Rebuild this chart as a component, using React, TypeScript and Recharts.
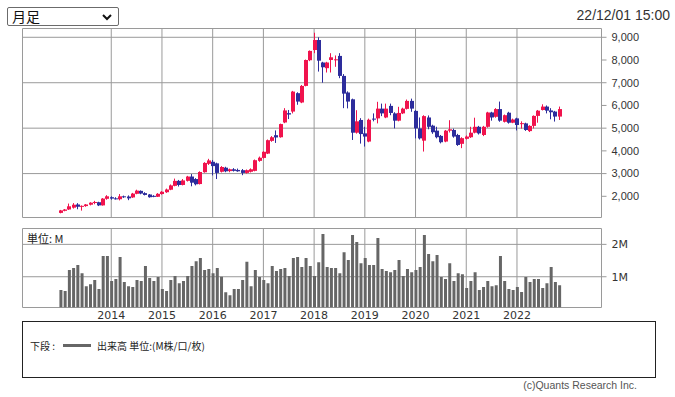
import React from 'react';
import { ComposedChart, Bar, XAxis, YAxis, CartesianGrid, ReferenceArea } from 'recharts';

// monthly bars, index 0 = Jan 2013
const opens = [
  1270, 1360, 1420, 1500, 1640, 1540, 1570, 1630, 1710, 1740, 1600, 1890,
  1960, 1910, 1870, 2000, 1990, 1950, 2110, 2240, 2140, 2080, 2020, 1980,
  2100, 2180, 2290, 2460, 2680, 2500, 2680, 2870, 2760, 2540, 3060, 3430,
  3520, 3450, 3080, 3260, 3110, 3190, 3160, 3150, 3030, 3080, 3120, 3560,
  3690, 3880, 4440, 4690, 4600, 5250, 5660, 5730, 6540, 6130, 6860, 7990,
  8440, 8880, 7890, 7640, 8000, 7990, 8180, 7300, 6570, 6270, 4800, 5360,
  4770, 4410, 5420, 5430, 5860, 5470, 5980, 5650, 5330, 5650, 5850, 6200,
  5760, 4990, 4450, 5470, 5110, 4890, 4660, 4410, 4890, 4920, 4700, 4310,
  4530, 4600, 4800, 5060, 4700, 5060, 5690, 5500, 5840, 5280, 5680, 5240,
  5430, 5180, 5210, 4870, 5100, 5540, 5800, 5950, 5780, 5730, 5510,
];
const highs = [
  1400, 1440, 1680, 1700, 1700, 1600, 1660, 1740, 1800, 1760, 1920, 2050,
  2000, 1960, 2100, 2030, 2040, 2150, 2290, 2260, 2180, 2100, 2050, 2140,
  2230, 2340, 2520, 2780, 2720, 2760, 2900, 2980, 2800, 3100, 3500, 3650,
  3600, 3480, 3330, 3300, 3220, 3240, 3220, 3200, 3180, 3230, 3620, 3750,
  3980, 4500, 4650, 4900, 5200, 5880, 5800, 6640, 6580, 6900, 8020, 8420,
  9200, 9000, 7920, 7920, 8300, 8200, 8300, 7380, 6620, 6300, 5790, 5440,
  5060, 5420, 5650, 6160, 6080, 6080, 6080, 5700, 5940, 5900, 6260, 6300,
  5800, 5470, 5570, 5560, 5150, 5060, 4700, 4920, 5350, 4980, 4750, 4600,
  4680, 5060, 5460, 5100, 5100, 5720, 5720, 5880, 6170, 5600, 5720, 5420,
  5460, 5300, 5240, 5130, 5560, 5800, 6050, 6000, 5880, 5760, 5950,
];
const lows = [
  1250, 1340, 1400, 1460, 1430, 1370, 1540, 1600, 1650, 1570, 1590, 1850,
  1850, 1860, 1820, 1930, 1830, 1930, 2090, 2090, 2040, 1940, 1960, 1970,
  2070, 2150, 2270, 2440, 2430, 2480, 2650, 2440, 2480, 2520, 3040, 3380,
  2920, 2760, 3050, 3060, 3060, 3090, 3080, 2930, 3000, 3050, 3100, 3520,
  3660, 3860, 4400, 4350, 4580, 5220, 5400, 5650, 6030, 6100, 6840, 7950,
  8300, 7490, 7000, 7450, 7450, 7700, 7200, 5880, 5870, 4480, 4760, 4320,
  4190, 4380, 5300, 5210, 5530, 5440, 5570, 4990, 5300, 5620, 5820, 5720,
  4550, 4500, 3970, 4950, 4750, 4550, 4330, 4380, 4810, 4580, 4220, 4120,
  4500, 4570, 4770, 4720, 4650, 5020, 5330, 5460, 5280, 5250, 5200, 5220,
  4900, 4980, 4880, 4830, 4990, 5240, 5780, 5650, 5390, 5290, 5360,
];
const closes = [
  1380, 1420, 1560, 1630, 1540, 1580, 1640, 1720, 1750, 1600, 1900, 2000,
  1900, 1880, 2000, 1960, 1910, 2120, 2250, 2120, 2060, 1960, 1980, 2110,
  2200, 2300, 2480, 2680, 2500, 2700, 2870, 2600, 2530, 3070, 3470, 3580,
  3330, 3030, 3290, 3100, 3190, 3120, 3100, 3030, 3150, 3190, 3590, 3700,
  3960, 4470, 4600, 4590, 5180, 5780, 5600, 6610, 6170, 6860, 8000, 8400,
  8880, 7970, 7680, 7890, 8120, 8030, 7300, 6520, 6170, 4800, 5300, 4740,
  4630, 5370, 5380, 5860, 5650, 5860, 5670, 5330, 5670, 5860, 6200, 5860,
  4990, 4550, 5530, 5060, 4820, 4600, 4380, 4890, 4950, 4630, 4260, 4560,
  4630, 4800, 5060, 4770, 5060, 5690, 5470, 5840, 5330, 5570, 5240, 5380,
  5140, 5220, 4920, 5100, 5540, 5770, 5950, 5770, 5700, 5510, 5840,
];
// volume in millions
const volumes = [
  0.59, 0.56, 1.21, 1.27, 1.36, 1.11, 0.71, 0.77, 0.9, 0.62, 1.64, 1.64,
  0.87, 0.93, 1.61, 0.84, 0.71, 0.68, 0.9, 0.87, 1.33, 0.96, 0.87, 0.99,
  0.62, 0.56, 0.9, 1.02, 0.8, 0.87, 1.02, 1.33, 1.48, 1.58, 1.21, 1.24,
  1.11, 1.27, 1.0, 0.52, 0.43, 0.62, 0.62, 0.9, 1.46, 0.71, 1.21, 0.99,
  0.9, 0.8, 1.33, 1.18, 1.24, 1.27, 1.02, 1.58, 1.61, 1.3, 1.58, 1.33,
  1.02, 1.45, 2.32, 1.3, 1.27, 1.27, 1.11, 1.76, 1.52, 2.29, 2.07, 1.42,
  1.58, 1.36, 1.36, 2.2, 1.24, 1.18, 1.14, 1.21, 1.52, 1.02, 1.24, 1.14,
  1.21, 1.3, 2.29, 1.7, 1.48, 1.67, 0.99, 0.93, 1.42, 0.87, 1.11, 1.08,
  0.65, 0.87, 1.14, 0.59, 0.68, 0.87, 0.71, 0.74, 1.64, 0.87, 0.62, 0.59,
  0.68, 0.53, 0.99, 0.84, 0.93, 0.93, 0.65, 0.8, 1.3, 0.84, 0.74,
];

const yearTicks = [12, 24, 36, 48, 60, 72, 84, 96, 108];
const yearLabels = ['2014', '2015', '2016', '2017', '2018', '2019', '2020', '2021', '2022'];
const priceTicks = [2000, 3000, 4000, 5000, 6000, 7000, 8000, 9000];
const volumeTicks = [1, 2];
const volumeLabels = ['1M', '2M'];

const UP = '#f0134d';
const DOWN = '#2d2d9c';
const GRID = '#9a9a9a';
const X_DOMAIN: [number, number] = [-9, 128];
const PRICE_DOMAIN: [number, number] = [1067, 9387];
const VOL_DOMAIN: [number, number] = [0.05, 2.49];

const data = opens.map((open, i) => ({
  idx: i,
  open,
  high: highs[i],
  low: lows[i],
  close: closes[i],
  range: [lows[i], highs[i]],
  volume: volumes[i],
}));

const Candle = (props: any) => {
  const { x, y, width, height, payload } = props;
  const { open, close, high, low } = payload;
  const color = close >= open ? UP : DOWN;
  const ratio = height / (high - low);
  const top = y + (high - Math.max(open, close)) * ratio;
  const bodyH = Math.max(1, Math.abs(open - close) * ratio);
  const left = Math.round(x + width / 2 - 2);
  return (
    <g>
      <line x1={left + 1.5} x2={left + 1.5} y1={y} y2={y + height} stroke={color} strokeWidth={1} />
      <rect x={left} y={top} width={4} height={bodyH} fill={color} />
    </g>
  );
};

const sans = '"Liberation Sans", Arial, sans-serif';
const jp = '"Noto Sans CJK JP", sans-serif';

export default function App() {
  return (
    <div style={{ position: 'absolute', left: 0, top: 0, width: 675, height: 397, background: '#fff', overflow: 'hidden' }}>
      {/* period selector */}
      <div
        style={{
          position: 'absolute', left: 7, top: 7, width: 106, height: 17,
          border: '1px solid #6b6b6b', borderRadius: 2, fontFamily: jp, fontSize: 14,
          lineHeight: '17px', paddingLeft: 4, boxSizing: 'content-box', color: '#111',
        }}
      >
        月足
        <svg width={10} height={7} style={{ position: 'absolute', left: 94, top: 6 }}>
          <polyline points="1,1 5,5 9,1" fill="none" stroke="#111" strokeWidth={2} />
        </svg>
      </div>
      <div style={{ position: 'absolute', right: 5, top: 7, fontFamily: sans, fontSize: 14, color: '#333' }}>
        22/12/01 15:00
      </div>

      <div style={{ position: 'absolute', left: 0, top: 0 }}>
        <ComposedChart width={675} height={230} data={data} margin={{ top: 28.5, left: 22.5, right: 13.5, bottom: 12.5 }}>
          <CartesianGrid stroke={GRID} horizontalValues={priceTicks} verticalValues={yearTicks} />
          <XAxis dataKey="idx" type="number" domain={X_DOMAIN} ticks={yearTicks} hide allowDataOverflow />
          <YAxis
            orientation="right"
            width={60}
            type="number"
            domain={PRICE_DOMAIN}
            ticks={priceTicks}
            allowDataOverflow
            axisLine={false}
            tickLine={{ stroke: GRID }}
            tickSize={5}
            tickMargin={5}
            tickFormatter={(v: number) => v.toLocaleString('en-US')}
            tick={{ fontSize: 11, fontFamily: sans, fill: '#333' }}
          />
          <ReferenceArea x1={X_DOMAIN[0]} x2={X_DOMAIN[1]} y1={PRICE_DOMAIN[0]} y2={PRICE_DOMAIN[1]} fill="none" stroke={GRID} />
          <Bar dataKey="range" barSize={3} shape={Candle} isAnimationActive={false} />
        </ComposedChart>
      </div>

      <div style={{ position: 'absolute', left: 0, top: 220 }}>
        <ComposedChart width={675} height={110} data={data} margin={{ top: 8.5, left: 22.5, right: 13.5, bottom: 0.5 }}>
          <CartesianGrid stroke={GRID} horizontalValues={volumeTicks} verticalValues={yearTicks} />
          <XAxis
            dataKey="idx"
            type="number"
            domain={X_DOMAIN}
            ticks={yearTicks}
            interval={0}
            allowDataOverflow
            height={22}
            axisLine={false}
            tickLine={false}
            tickSize={0}
            tickMargin={4}
            tickFormatter={(v: number) => yearLabels[yearTicks.indexOf(v)]}
            tick={{ fontSize: 11, fontFamily: '"DejaVu Sans", sans-serif', fill: '#333' }}
          />
          <YAxis
            orientation="right"
            width={60}
            type="number"
            domain={VOL_DOMAIN}
            ticks={volumeTicks}
            allowDataOverflow
            axisLine={false}
            tickLine={{ stroke: GRID }}
            tickSize={5}
            tickMargin={5}
            tickFormatter={(v: number) => volumeLabels[volumeTicks.indexOf(v)]}
            tick={{ fontSize: 11, fontFamily: '"DejaVu Sans", sans-serif', fill: '#333' }}
          />
          <ReferenceArea x1={X_DOMAIN[0]} x2={X_DOMAIN[1]} y1={VOL_DOMAIN[0]} y2={VOL_DOMAIN[1]} fill="none" stroke={GRID} />
          <Bar dataKey="volume" barSize={3} fill="#666" isAnimationActive={false} />
        </ComposedChart>
      </div>
      <div style={{ position: 'absolute', left: 27, top: 230, fontFamily: jp, fontSize: 11, color: '#222' }}>単位: M</div>

      {/* legend box */}
      <div
        style={{
          position: 'absolute', left: 22, top: 321, width: 634, height: 57,
          border: '1px solid #222', boxSizing: 'border-box',
        }}
      >
        <div style={{ position: 'absolute', left: 7, top: 16, fontFamily: jp, fontSize: 10, color: '#222', whiteSpace: 'nowrap', display: 'flex', alignItems: 'center' }}>
          <span>下段 :</span>
          <span style={{ display: 'inline-block', width: 28, height: 3, background: '#666', margin: '0 6px 0 8px' }} />
          <span>出来高 単位:(M株/口/枚)</span>
        </div>
      </div>
      <div style={{ position: 'absolute', right: 38, top: 379, fontFamily: sans, fontSize: 10.5, color: '#555' }}>
        (c)Quants Research Inc.
      </div>
    </div>
  );
}
